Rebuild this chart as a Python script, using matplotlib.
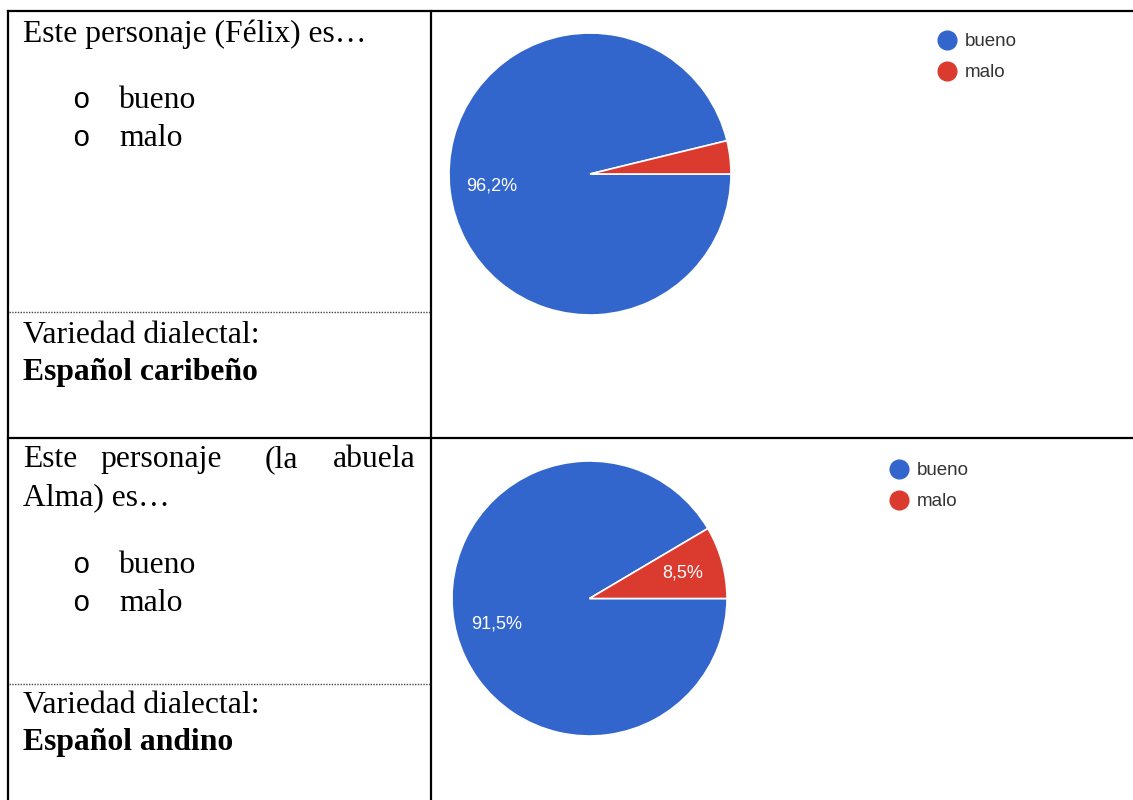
import matplotlib
matplotlib.use("Agg")
import matplotlib.pyplot as plt
from matplotlib.lines import Line2D

# datos de la encuesta
categorias = ["bueno", "malo"]
bueno_pct = [96.2, 91.5]
malo_pct = [3.8, 8.5]
preguntas = ["Este personaje (Félix) es…", "Este personaje (la abuela Alma) es…"]
variedades = ["Español caribeño", "Español andino"]

AZUL = "#3366CC"
ROJO = "#DB3A2F"
W, H = 1133, 800


def fmt_pct(p):
    return "" if p < 5 else f"{p:.1f}%".replace(".", ",")


def fig_rect(left, top, right, bottom):
    return [left / W, 1 - bottom / H, (right - left) / W, (bottom - top) / H]


def main():
    fig = plt.figure(figsize=(W / 100, H / 100), dpi=100)
    bg = fig.add_axes([0, 0, 1, 1])
    bg.set_xlim(0, W)
    bg.set_ylim(H, 0)
    bg.axis("off")

    # bordes de la tabla
    lw = 1.6
    bg.plot([8, W], [11, 11], color="black", lw=lw)
    bg.plot([8, W], [438, 438], color="black", lw=lw)
    bg.plot([8, 8], [11, H], color="black", lw=lw)
    bg.plot([431, 431], [11, H], color="black", lw=lw)
    for y in (312, 684):
        bg.plot([9, 430], [y, y], color="#444444", lw=1.0, linestyle=(0, (1, 1)))

    serif = "Liberation Serif"
    fs = 22.8
    # fila 1
    bg.text(23, 42, preguntas[0], fontsize=fs, family=serif, va="baseline")
    # fila 2 (texto justificado)
    for word, x in zip(["Este", "personaje", "(la", "abuela"], [23, 100, 265, 333]):
        bg.text(x, 467, word, fontsize=fs, family=serif, va="baseline")
    bg.text(23, 505, "Alma) es…", fontsize=fs, family=serif, va="baseline")

    for y0 in (108, 573):
        for i, cat in enumerate(categorias):
            yb = y0 + i * 38
            bg.text(72, yb, "o", fontsize=21, family="Liberation Mono", va="baseline")
            bg.text(119, yb, cat, fontsize=fs, family=serif, va="baseline")
    for k, yv in enumerate((343, 713)):
        bg.text(23, yv, "Variedad dialectal:", fontsize=fs, family=serif, va="baseline")
        bg.text(23, yv + 37, variedades[k], fontsize=fs, family=serif,
                fontweight="bold", va="baseline")

    # tartas
    pies = [((449, 33, 731, 315), (937.5, 33)), ((452, 461, 727, 736), (889.5, 462))]
    for k, (rect, legpos) in enumerate(pies):
        ax = fig.add_axes(fig_rect(*rect))
        wedges, _, autotexts = ax.pie(
            [bueno_pct[k], malo_pct[k]], colors=[AZUL, ROJO], startangle=0,
            counterclock=False, autopct=fmt_pct, pctdistance=0.7,
            wedgeprops=dict(edgecolor="white", linewidth=1.2),
            textprops=dict(color="white", fontsize=13, family="Liberation Sans"))
        ax.set_xlim(-1, 1)
        ax.set_ylim(-1, 1)
        ax.set_aspect("equal")
        ax.axis("off")

        handles = [Line2D([], [], marker="o", linestyle="", markersize=13.5,
                          markerfacecolor=c, markeredgecolor=c)
                   for c in (AZUL, ROJO)]
        ax.legend(handles, categorias, loc="upper left", bbox_to_anchor=legpos,
                  bbox_transform=bg.transData, frameon=False,
                  handlelength=1.0, handletextpad=0.46, labelspacing=0.75,
                  borderpad=0, borderaxespad=0,
                  prop=dict(family="Liberation Sans", size=13.5),
                  labelcolor="#333333")

    fig.savefig("out.png", dpi=100)
    plt.close(fig)


if __name__ == "__main__":
    main()
